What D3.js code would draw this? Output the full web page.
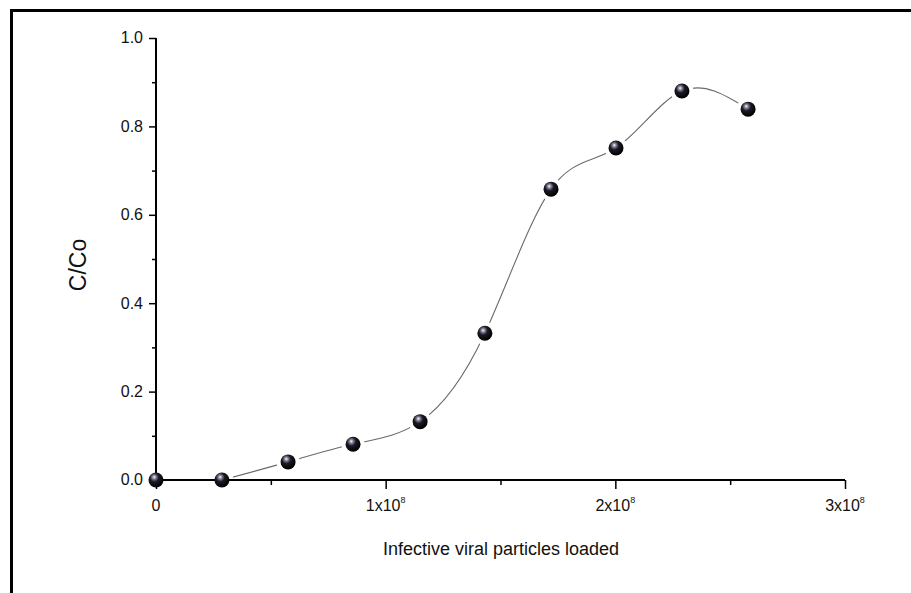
<!DOCTYPE html>
<html>
<head>
<meta charset="utf-8">
<script src="https://cdn.jsdelivr.net/npm/d3@7"></script>
<style>
  html, body { margin: 0; padding: 0; background: #fff; }
  svg { display: block; }
  text { font-family: "Liberation Sans", Arial, sans-serif; fill: #111; }
</style>
</head>
<body>
<script>
// Breakthrough data: particles loaded vs. C/Co
const particlesLoaded = [0, 0.287e8, 0.575e8, 0.858e8, 1.15e8, 1.432e8, 1.72e8, 2.003e8, 2.29e8, 2.578e8];
const ratioCCo = [0.0, 0.0, 0.041, 0.081, 0.132, 0.332, 0.658, 0.751, 0.88, 0.839];
const xTickValues = [0, 1e8, 2e8, 3e8];
const xTickMantissa = ["0", "1", "2", "3"];
const yTickValues = [0, 0.2, 0.4, 0.6, 0.8, 1.0];

const W = 911, H = 593;
const svg = d3.select("body").append("svg").attr("width", W).attr("height", H);

// Outer frame (top and left edges)
svg.append("path")
  .attr("d", `M11.5,${H} L11.5,10.5 L${W},10.5`)
  .attr("fill", "none").attr("stroke", "#000").attr("stroke-width", 3);

const x = d3.scaleLinear().domain([0, 3e8]).range([156, 845]);
const y = d3.scaleLinear().domain([0, 1]).range([480, 38]);

// Sphere shading for the markers
const defs = svg.append("defs");
const grad = defs.append("radialGradient").attr("id", "ball")
  .attr("cx", "40%").attr("cy", "35%").attr("r", "65%").attr("fx", "38%").attr("fy", "30%");
grad.append("stop").attr("offset", "0%").attr("stop-color", "#ffffff");
grad.append("stop").attr("offset", "18%").attr("stop-color", "#8a8aa0");
grad.append("stop").attr("offset", "45%").attr("stop-color", "#1a1a24");
grad.append("stop").attr("offset", "100%").attr("stop-color", "#000000");

const pts = particlesLoaded.map((v, i) => [v, ratioCCo[i]]);

// Smooth connecting curve (from the second point onward)
const line = d3.line().x(d => x(d[0])).y(d => y(d[1])).curve(d3.curveNatural);
svg.append("path")
  .datum(pts.slice(1))
  .attr("d", line)
  .attr("fill", "none").attr("stroke", "#6a6a6a").attr("stroke-width", 1.1);

// Gaps in the curve around each marker
svg.append("g").selectAll("circle").data(pts).join("circle")
  .attr("cx", d => x(d[0])).attr("cy", d => y(d[1])).attr("r", 11.5)
  .attr("fill", "#fff");

// Y axis
const yAxis = d3.axisLeft(y).tickValues(yTickValues).tickFormat(d3.format(".1f")).tickSize(7).tickPadding(6);
const gy = svg.append("g").attr("transform", "translate(156,0)").call(yAxis);
gy.selectAll(".tick text").attr("font-size", 16).attr("dy", "0.3em");
gy.selectAll(".tick line").attr("stroke-width", 1.5);
gy.select(".domain").attr("stroke-width", 2).attr("d", `M0,${y(1)}V${y(0)}`);
const yMinor = d3.axisLeft(y).tickValues([0.1, 0.3, 0.5, 0.7, 0.9]).tickSize(4).tickFormat("");
const gym = svg.append("g").attr("transform", "translate(156,0)").call(yMinor);
gym.select(".domain").remove();
gym.selectAll(".tick line").attr("stroke-width", 1.5);

// X axis
const xAxis = d3.axisBottom(x).tickValues(xTickValues).tickFormat(() => "").tickSize(9);
const gx = svg.append("g").attr("transform", "translate(0,480)").call(xAxis);
gx.select(".domain").attr("stroke-width", 2).attr("d", `M${x(0)},0H${x(3e8)}`);
gx.selectAll(".tick line").attr("stroke-width", 1.5);
const xMinor = d3.axisBottom(x).tickValues([0.5e8, 1.5e8, 2.5e8]).tickSize(5).tickFormat("");
const gxm = svg.append("g").attr("transform", "translate(0,480)").call(xMinor);
gxm.select(".domain").remove();
gxm.selectAll(".tick line").attr("stroke-width", 1.5);

// X tick labels with scientific exponents
const xl = svg.append("g");
xTickValues.forEach((v, i) => {
  const t = xl.append("text").attr("x", x(v)).attr("y", 511)
    .attr("text-anchor", "middle").attr("font-size", 16);
  if (v === 0) {
    t.text(xTickMantissa[i]);
  } else {
    t.append("tspan").text(xTickMantissa[i] + "x10");
    t.append("tspan").attr("font-size", 9).attr("dy", -8).text("8");
  }
});

// Axis titles
svg.append("text").attr("x", 501).attr("y", 555).attr("text-anchor", "middle")
  .attr("font-size", 18).text("Infective viral particles loaded");
svg.append("text").attr("transform", "translate(86,265) rotate(-90)").attr("text-anchor", "middle")
  .attr("font-size", 23).text("C/Co");

// Markers
svg.append("g").selectAll("circle").data(pts).join("circle")
  .attr("cx", d => x(d[0])).attr("cy", d => y(d[1])).attr("r", 7.5)
  .attr("fill", "url(#ball)");
</script>
</body>
</html>
